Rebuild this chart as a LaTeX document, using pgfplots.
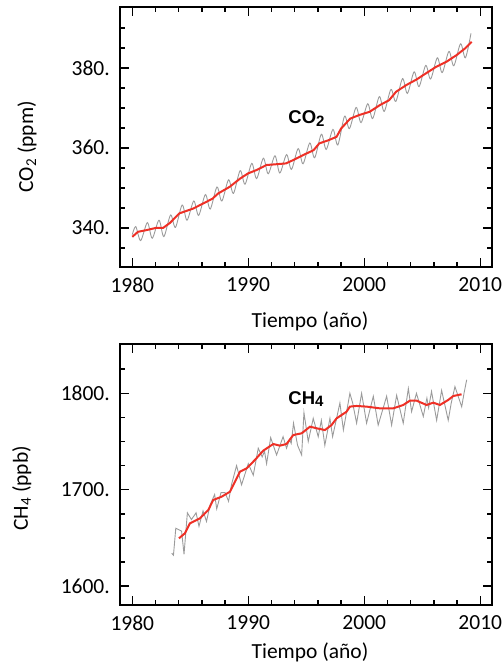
\documentclass[border=0pt]{standalone}
\usepackage{fontspec}
\setmainfont{Carlito}
\newfontfamily\arialfont{Liberation Sans}
\usepackage{pgfplots}
\pgfplotsset{compat=1.18}
\definecolor{redline}{RGB}{238,48,38}
\definecolor{greyline}{RGB}{155,155,155}

\pgfplotsset{
  panel/.style={
    scale only axis, width=371.5pt,
    xmin=1978.94, xmax=2010.97,
    xtick={1980,1990,2000,2010}, xticklabels={1980,1990,2000,2010},
    minor xtick={1982,1984,1986,1988,1992,1994,1996,1998,2002,2004,2006,2008},
    axis line style={line width=2pt},
    tick align=inside, xtick pos=both, ytick pos=both,
    major tick length=9pt, minor tick length=5pt,
    every tick/.style={black, line width=1.5pt},
    every minor tick/.style={black, line width=1.5pt},
    ticklabel style={font=\fontsize{21.5}{24}\selectfont, inner sep=0pt},
    xticklabel style={anchor=north, yshift=-10.5pt},
    yticklabel style={anchor=east, xshift=-10pt},
    clip=false
  }
}

\begin{document}
\begin{tikzpicture}[x=1pt,y=1pt]
\useasboundingbox (0,0) rectangle (502,-665);

% CO2
\begin{axis}[panel, at={(120pt,-7pt)}, anchor=north west, height=260pt,
  ymin=330.2, ymax=395.2,
  ytick={340,360,380}, yticklabels={340.,360.,380.},
  minor ytick={335,345,350,355,365,370,375,385,390}]
\addplot[greyline, line width=0.9pt, smooth] coordinates {
(1980.0,338.3)(1980.3,340.3)(1980.72,336.8)(1981.3,341.3)(1981.72,337.4)
(1982.3,341.9)(1982.72,337.8)(1983.3,343.2)(1983.72,340.1)(1984.3,345.7)
(1984.72,341.9)(1985.3,346.7)(1985.72,343.1)(1986.3,348.3)(1986.72,344.7)
(1987.3,350.2)(1987.72,346.7)(1988.3,352.0)(1988.72,348.6)(1989.3,354.3)
(1989.72,350.9)(1990.3,356.1)(1990.72,352.3)(1991.3,357.4)(1991.72,353.5)
(1992.3,358.0)(1992.72,353.7)(1993.3,358.3)(1993.72,354.6)(1994.3,359.8)
(1994.72,356.0)(1995.3,361.2)(1995.72,357.5)(1996.3,363.4)(1996.72,359.6)
(1997.3,364.6)(1997.72,360.7)(1998.3,367.9)(1998.72,364.8)(1999.3,370.1)
(1999.72,366.3)(2000.3,371.0)(2000.72,367.3)(2001.3,372.8)(2001.72,369.1)
(2002.3,374.6)(2002.72,371.6)(2003.3,377.3)(2003.72,373.6)(2004.3,379.0)
(2004.72,375.3)(2005.3,380.6)(2005.72,377.2)(2006.3,382.5)(2006.72,378.8)
(2007.3,384.1)(2007.72,380.5)(2008.3,386.0)(2008.72,382.5)(2009.2,388.6)};
\addplot[redline, line width=2pt] coordinates {
(1980.0,337.75)(1980.49,339.0)(1981.19,339.4)(1982.08,340.0)(1982.67,340.0)
(1983.26,341.25)(1984.05,343.6)(1985.24,344.8)(1986.13,346.1)(1986.92,347.3)
(1987.41,348.6)(1988.40,350.25)(1989.29,352.3)(1989.98,353.6)(1990.68,354.4)
(1991.57,355.7)(1992.46,355.9)(1993.25,356.1)(1993.85,356.9)(1994.74,358.2)
(1995.63,359.4)(1996.12,361.1)(1996.92,361.9)(1997.61,362.75)(1998.00,364.8)
(1998.79,367.3)(1999.57,368.2)(2000.46,369.0)(2001.36,370.7)(2002.14,371.9)
(2002.74,374.0)(2003.63,375.7)(2004.52,377.1)(2005.31,378.6)(2006.20,380.25)
(2007.08,381.5)(2007.97,383.2)(2008.67,384.8)(2009.26,386.5)};
\node[anchor=base west, inner sep=0pt] at (axis cs:1993.45,366.0)
  {\arialfont\bfseries\fontsize{18.5}{20}\selectfont CO\raisebox{-0.3ex}{\fontsize{15}{15}\selectfont 2}};
\end{axis}

% CH4
\begin{axis}[panel, at={(120pt,-343.5pt)}, anchor=north west, height=261.5pt,
  ymin=1580.3, ymax=1851.7,
  ytick={1600,1700,1800}, yticklabels={1600.,1700.,1800.},
  minor ytick={1625,1650,1675,1725,1750,1775,1825}]
\addplot[greyline, line width=0.9pt] coordinates {
(1983.40,1634)(1983.55,1632)(1983.75,1660)(1984.25,1657)(1984.46,1633)
(1984.75,1676)(1985.10,1669)(1985.50,1676)(1985.75,1662)(1986.10,1678)
(1986.40,1667)(1986.70,1684)(1987.10,1695)(1987.28,1680)(1987.65,1697)
(1988.00,1697)(1988.30,1688)(1988.55,1705)(1988.99,1725)(1989.42,1705)
(1990.00,1727)(1990.43,1715)(1990.86,1743)(1991.20,1734)(1991.40,1740)
(1991.58,1727)(1991.93,1754)(1992.44,1736)(1993.00,1755)(1993.30,1743)
(1993.55,1752)(1993.70,1748)(1993.90,1769)(1994.25,1746)(1994.60,1736)
(1994.80,1780)(1995.17,1750)(1995.60,1774)(1996.03,1755)(1996.30,1772)
(1996.60,1746)(1997.04,1774)(1997.27,1755)(1997.90,1790)(1998.20,1762)
(1998.76,1800)(1999.00,1790)(1999.34,1769)(1999.77,1800)(2000.20,1769)
(2000.78,1797)(2001.20,1767)(2001.93,1797)(2002.36,1767)(2002.79,1798)
(2003.36,1769)(2003.80,1805)(2004.08,1781)(2004.50,1800)(2005.09,1776)
(2005.40,1795)(2005.55,1785)(2005.80,1802)(2006.24,1772)(2006.67,1803)
(2007.24,1772)(2007.50,1790)(2007.82,1807)(2008.40,1786)(2008.60,1800)
(2008.83,1814)};
\addplot[redline, line width=2pt] coordinates {
(1984.02,1649.5)(1984.54,1654.7)(1984.97,1665.1)(1985.83,1670.2)(1986.55,1678.9)
(1986.98,1689.3)(1987.70,1692.7)(1988.42,1697.9)(1989.28,1718.7)(1989.86,1722.1)
(1990.57,1730.8)(1991.29,1740.5)(1992.16,1747.4)(1992.73,1745.7)(1993.30,1747.4)
(1993.88,1756.7)(1994.60,1758.5)(1995.32,1765.4)(1995.89,1763.7)(1996.61,1761.9)
(1997.18,1767.1)(1997.61,1774.0)(1998.48,1781.0)(1998.76,1786.2)(1999.34,1786.9)
(2000.20,1786.2)(2001.35,1784.4)(2002.50,1784.4)(2003.36,1787.9)(2003.94,1792.4)
(2004.51,1792.4)(2005.37,1787.9)(2005.95,1790.3)(2006.52,1787.9)(2007.24,1793.1)
(2007.67,1797.2)(2008.39,1799.0)};
\node[anchor=base west, inner sep=0pt] at (axis cs:1993.45,1788.9)
  {\arialfont\bfseries\fontsize{18.5}{20}\selectfont CH\raisebox{-0.3ex}{\fontsize{15}{15}\selectfont 4}};
\end{axis}

% axis labels
\node[rotate=90, inner sep=0pt, font=\fontsize{21.5}{24}\selectfont] at (27,-146.7) {CO\textsubscript{2} (ppm)};
\node[rotate=90, inner sep=0pt, font=\fontsize{21.5}{24}\selectfont] at (21.7,-488.3) {CH\textsubscript{4} (ppb)};
\node[anchor=base, inner sep=0pt, font=\fontsize{21.5}{24}\selectfont] at (310,-327) {Tiempo (año)};
\node[anchor=base, inner sep=0pt, font=\fontsize{21.5}{24}\selectfont] at (310,-658.8) {Tiempo (año)};
\end{tikzpicture}
\end{document}
